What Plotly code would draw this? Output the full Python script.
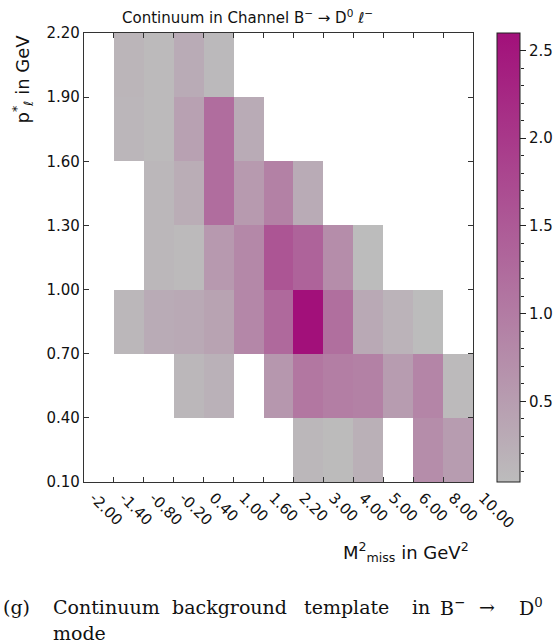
import numpy as np
import plotly.graph_objects as go

# Bin edges of the template (shown as equal-width categories)
mmiss_edges = ["-2.00", "-1.40", "-0.80", "-0.20", "0.40", "1.00", "1.60",
               "2.20", "3.00", "4.00", "5.00", "6.00", "8.00", "10.00"]
pl_edges = ["0.10", "0.40", "0.70", "1.00", "1.30", "1.60", "1.90", "2.20"]

# Template content per (p_l bin, M2_miss bin); rows from low to high p_l
row_010_040 = [None, None, None, None, None, None, None, 0.11, 0.06, 0.22, None, 0.74, 0.52]
row_040_070 = [None, None, None, 0.11, 0.20, None, 0.59, 1.07, 0.97, 0.92, 0.52, 0.86, 0.07]
row_070_100 = [None, 0.11, 0.29, 0.32, 0.41, 0.83, 1.28, 2.60, 1.19, 0.32, 0.17, 0.04, None]
row_100_130 = [None, None, 0.11, 0.07, 0.56, 0.82, 1.58, 1.37, 0.74, 0.04, None, None, None]
row_130_160 = [None, None, 0.11, 0.26, 1.22, 0.55, 0.92, 0.29, None, None, None, None, None]
row_160_190 = [None, 0.13, 0.07, 0.44, 1.22, 0.29, None, None, None, None, None, None, None]
row_190_220 = [None, 0.14, 0.07, 0.29, 0.09, None, None, None, None, None, None, None, None]

z = [row_010_040, row_040_070, row_070_100, row_100_130,
     row_130_160, row_160_190, row_190_220]

vals = [v for r in z for v in r if v is not None]
zmin, zmax = min(vals), max(vals)

x_idx = list(range(len(mmiss_edges)))
y_idx = list(range(len(pl_edges)))

W, H = 553, 644
ml, mr, mt, mb = 84, 0, 33, 162
pw = W - ml - mr


def px(xpix):
    """Horizontal pixel position -> paper fraction."""
    return (xpix - ml) / pw


x_dom_right = px(473)
cb_left = px(497)
cb_right = px(520)

colorscale = [[0.0, "rgb(188,188,188)"], [1.0, "rgb(162,16,122)"]]

fig = go.Figure()
fig.add_trace(go.Heatmap(
    x=x_idx, y=y_idx, z=z,
    zmin=zmin, zmax=zmax,
    colorscale=colorscale,
    hoverongaps=False,
    colorbar=dict(
        x=cb_left, xanchor="left", xref="paper",
        y=0.5, yanchor="middle", len=1.0, lenmode="fraction",
        thickness=23, thicknessmode="pixels",
        outlinewidth=1, outlinecolor="#222222",
        tickvals=[0.5, 1.0, 1.5, 2.0, 2.5],
        ticktext=["0.5", "1.0", "1.5", "2.0", "2.5"],
        ticks="outside", ticklen=6, tickwidth=1, tickcolor="#222222",
        tickfont=dict(family="DejaVu Sans", size=15, color="#111111"),
        xpad=0, ypad=0,
    ),
))

# Helper axis carrying the colorbar's minor ticks
minor_vals = [round(v, 1) for v in np.arange(0.1, zmax, 0.1)]
fig.add_trace(go.Scatter(x=[None], y=[None], xaxis="x2", yaxis="y2",
                         showlegend=False, hoverinfo="skip"))

axis_font = dict(family="DejaVu Sans", size=15, color="#111111")
fig.update_layout(
    width=W, height=H,
    margin=dict(l=ml, r=mr, t=mt, b=mb, pad=0, autoexpand=False),
    paper_bgcolor="white", plot_bgcolor="white",
    showlegend=False,
    xaxis=dict(
        domain=[0, x_dom_right], range=[0, len(mmiss_edges) - 1],
        tickvals=x_idx, ticktext=mmiss_edges, tickangle=45,
        ticklabelshift=10, ticklabelstandoff=0,
        ticks="inside", ticklen=5, tickwidth=1, tickcolor="#333333",
        showline=True, linecolor="#333333", linewidth=1.2, mirror="ticks",
        showgrid=False, zeroline=False, tickfont=axis_font,
    ),
    yaxis=dict(
        range=[0, len(pl_edges) - 1],
        tickvals=y_idx, ticktext=pl_edges,
        ticks="inside", ticklen=5, tickwidth=1, tickcolor="#333333",
        showline=True, linecolor="#333333", linewidth=1.2, mirror="ticks",
        showgrid=False, zeroline=False, tickfont=axis_font,
    ),
    xaxis2=dict(domain=[cb_left, cb_right], anchor="y2", visible=False,
                range=[0, 1]),
    yaxis2=dict(
        anchor="free", position=cb_right, side="right",
        domain=[0, 1], range=[zmin, zmax],
        tickvals=minor_vals, showticklabels=False,
        ticks="outside", ticklen=3, tickwidth=1, tickcolor="#222222",
        showline=False, showgrid=False, zeroline=False,
    ),
)

fig.add_annotation(
    text="Continuum in Channel B<sup>−</sup> → D<sup>0</sup> <i>ℓ</i><sup>−</sup>",
    xref="paper", yref="paper", x=px(247), y=1.0,
    xanchor="center", yanchor="bottom", yshift=4, showarrow=False,
    font=dict(family="DejaVu Sans", size=15, color="#111111"),
)
fig.add_annotation(
    text="M<sup>2</sup><sub>miss</sub> in GeV<sup>2</sup>",
    xref="paper", yref="paper", x=px(471), y=0,
    xanchor="right", yanchor="middle", yshift=-70, showarrow=False,
    font=dict(family="DejaVu Sans", size=18, color="#111111"),
)
fig.add_annotation(
    text="p<sup>*</sup><sub><i>ℓ</i></sub> in GeV",
    xref="paper", yref="paper", x=0, y=1.0,
    xanchor="center", yanchor="top", xshift=-62, showarrow=False,
    textangle=-90,
    font=dict(family="DejaVu Sans", size=18, color="#111111"),
)

# Caption, set word by word as a justified line
caption_font = dict(family="DejaVu Serif", size=19, color="#111111")
caption_words = [("(g)", 1), ("Continuum", 51), ("background", 170),
                 ("template", 302), ("in", 410), ("B<sup>−</sup>", 438),
                 ("→", 477), ("D<sup>0</sup>", 517)]
for word, left in caption_words:
    fig.add_annotation(
        text=word, xref="paper", yref="paper", x=px(left), y=0,
        xanchor="left", yanchor="middle", yshift=-125, showarrow=False,
        font=caption_font,
    )
fig.add_annotation(
    text="mode",
    xref="paper", yref="paper", x=px(51), y=0,
    xanchor="left", yanchor="middle", yshift=-151, showarrow=False,
    font=caption_font,
)

fig.write_html("out.html")
